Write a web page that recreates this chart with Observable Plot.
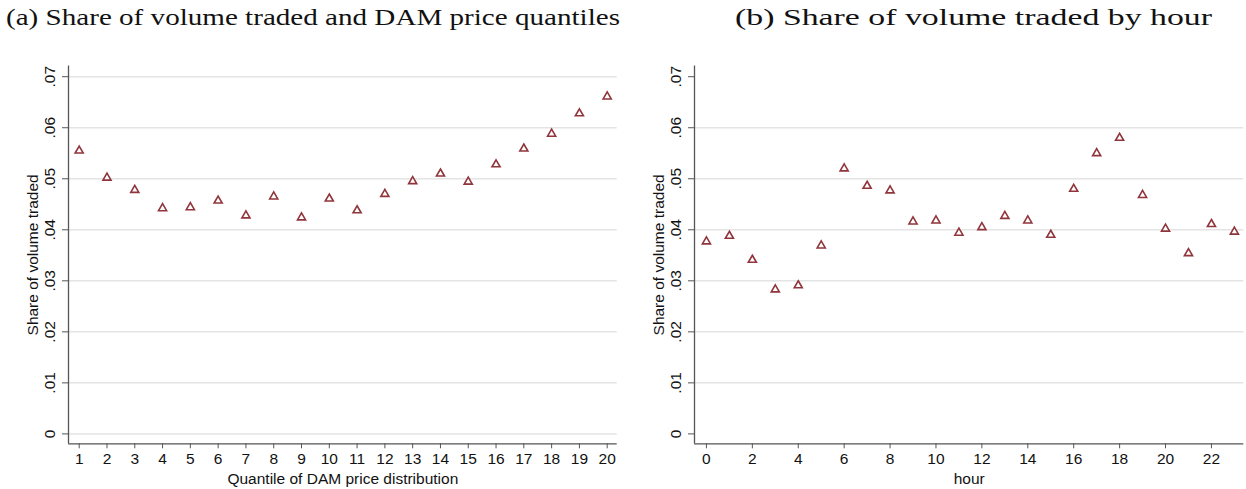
<!DOCTYPE html>
<html>
<head>
<meta charset="utf-8">
<script src="https://cdn.jsdelivr.net/npm/d3@7"></script>
<script src="https://cdn.jsdelivr.net/npm/@observablehq/plot@0.6"></script>
<style>
  html, body { margin: 0; padding: 0; background: #fff; }
  #fig { position: relative; width: 1246px; height: 489px; overflow: hidden; }
  .title { position: absolute; top: 5px; font-family: "Liberation Serif", serif; font-size: 23px; color: #111; white-space: nowrap; transform-origin: 0 50%; }
  .panel { position: absolute; top: 48px; }
</style>
</head>
<body>
<div id="fig">
  <div class="title" id="ta" style="left:6px">(a) Share of volume traded and DAM price quantiles</div>
  <div class="title" id="tb" style="left:735px">(b) Share of volume traded by hour</div>
  <div class="panel" id="pa" style="left:0px"></div>
  <div class="panel" id="pb" style="left:623px"></div>
</div>
<script>
// ---- data ----
const quantiles = [1,2,3,4,5,6,7,8,9,10,11,12,13,14,15,16,17,18,19,20];
const quantileShare = [0.0555,0.0502,0.0478,0.0442,0.0444,0.0457,0.0428,0.0465,0.0424,0.0461,
                       0.0438,0.0470,0.0495,0.0510,0.0494,0.0528,0.0559,0.0588,0.0628,0.0661];
const hours = [0,1,2,3,4,5,6,7,8,9,10,11,12,13,14,15,16,17,18,19,20,21,22,23];
const hourShare = [0.0377,0.0388,0.0341,0.0283,0.0291,0.0369,0.0520,0.0486,0.0477,0.0416,0.0418,0.0394,
                   0.0405,0.0427,0.0418,0.0390,0.0480,0.0550,0.0580,0.0468,0.0402,0.0354,0.0411,0.0396];
const yTicks = [0,0.01,0.02,0.03,0.04,0.05,0.06,0.07];
const xTicksA = quantiles;
const xTicksB = [0,2,4,6,8,10,12,14,16,18,20,22];
const gridA = [0,0.01,0.02,0.03,0.04,0.05,0.06,0.07];
const gridB = [0.01,0.02,0.03,0.04,0.05,0.06];
const yLabel = "Share of volume traded";
const xLabelA = "Quantile of DAM price distribution";
const xLabelB = "hour";

// ---- styles ----
const markerColor = "#90353b";
const gridColor = "#e4e4e4";
const axisColor = "#555";
const yDomain = [-0.00194, 0.0721];
const fmt = d => d === 0 ? "0" : d3.format(".2f")(d).replace(/^0/, "");

function panel({x, y, xDomain, xTicks, grid, xLabel, marginLeft, marginRight}) {
  const data = x.map((v, i) => ({x: v, y: y[i]}));
  return Plot.plot({
    width: 623,
    height: 441,
    marginTop: 17.5,
    marginBottom: 45.7,
    marginLeft,
    marginRight,
    style: {fontFamily: "'Liberation Sans', Arial, sans-serif", fontSize: "15.5px", color: "#111", background: "#fff"},
    x: {domain: xDomain},
    y: {domain: yDomain},
    marks: [
      Plot.gridY(grid, {stroke: gridColor, strokeOpacity: 1, strokeWidth: 1.5}),
      Plot.axisY(yTicks, {tickFormat: fmt, tickRotate: -90, tickSize: 6, tickPadding: 8, stroke: axisColor,
        label: yLabel, labelAnchor: "center", labelArrow: "none", labelOffset: 42, fontSize: 15.5}),
      Plot.axisX(xTicks, {tickFormat: d => String(d), tickSize: 5, tickPadding: 4, stroke: axisColor,
        label: xLabel, labelAnchor: "center", labelArrow: "none", labelOffset: 40, fontSize: 15.5}),
      Plot.ruleX([xDomain[0]], {stroke: axisColor, strokeWidth: 1.3}),
      Plot.ruleY([yDomain[0]], {stroke: axisColor, strokeWidth: 1.3}),
      Plot.dot(data, {x: "x", y: "y", symbol: "triangle", r: 3, fill: "white", stroke: markerColor, strokeWidth: 1.6})
    ]
  });
}

document.getElementById("pa").appendChild(panel({
  x: quantiles, y: quantileShare, xDomain: [0.615, 20.36], xTicks: xTicksA, grid: gridA,
  xLabel: xLabelA, marginLeft: 68, marginRight: 6.3
}));
document.getElementById("pb").appendChild(panel({
  x: hours, y: hourShare, xDomain: [-0.52, 23.41], xTicks: xTicksB, grid: gridB,
  xLabel: xLabelB, marginLeft: 71, marginRight: 2.7
}));

// stretch titles horizontally to the reference width (Computer Modern is wider than Times)
function fit(id, target) {
  const el = document.getElementById(id);
  const w = el.getBoundingClientRect().width;
  el.style.transform = "scaleX(" + (target / w) + ")";
}
fit("ta", 614);
fit("tb", 477);
</script>
</body>
</html>
